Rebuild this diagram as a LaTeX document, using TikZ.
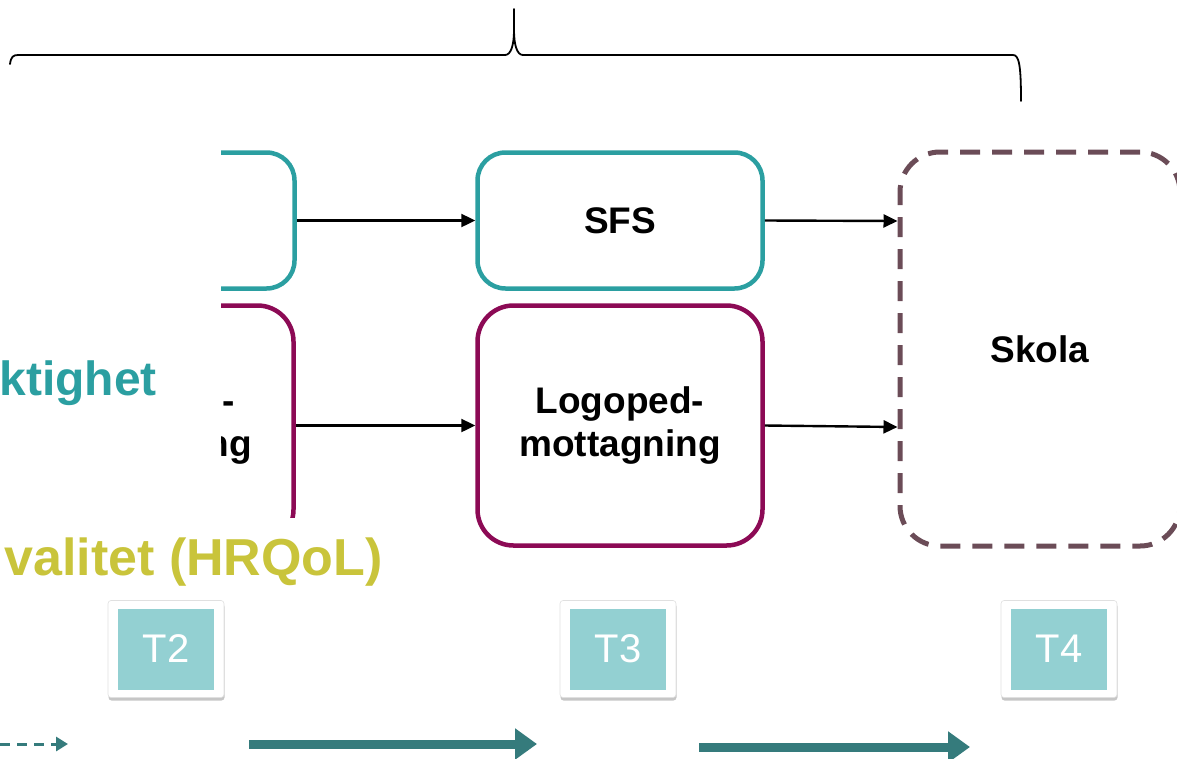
\documentclass[tikz,border=0pt]{standalone}
\usepackage{fontspec}
\setmainfont{Liberation Sans}
\usepackage{xcolor}
\usetikzlibrary{arrows.meta,shadows}

\definecolor{sfsteal}{HTML}{2B9FA1}
\definecolor{logomag}{HTML}{8C0A55}
\definecolor{skolamauve}{HTML}{6B4C57}
\definecolor{hrqolgreen}{HTML}{C9C43B}
\definecolor{tfill}{HTML}{93D0D2}
\definecolor{timeteal}{HTML}{357B7C}

\tikzset{
  stage/.style={draw, line width=4.5pt, minimum width=285pt, inner sep=0pt, align=center,
    font=\bfseries\fontsize{37}{43}\selectfont},
  sfsbox/.style={stage, draw=sfsteal, rounded corners=28pt, minimum height=136pt},
  logobox/.style={stage, draw=logomag, rounded corners=36pt, minimum height=240pt},
  conn/.style={-{Triangle[length=14pt,width=13pt]}, line width=2.4pt},
  tcard/.style={fill=white, draw=black!12, line width=.6pt, rounded corners=3pt,
    minimum width=116pt, minimum height=97pt,
    drop shadow={shadow xshift=0.5pt, shadow yshift=-3pt, opacity=.45}},
  tmark/.style={fill=tfill, text=white, minimum width=96pt, minimum height=81pt, inner sep=0pt,
    font=\fontsize{40}{40}\selectfont},
  timearrow/.style={draw=timeteal, line width=9pt, -{Triangle[length=22pt,width=30pt]}},
}

\begin{document}
\begin{tikzpicture}[x=1pt, y=-1pt]
\useasboundingbox (0,0) rectangle (1177,758);
\clip (0,0) rectangle (1177,758);

% brace over the whole follow-up
\draw[line width=1.8pt, line cap=round]
  (10,64) .. controls (11,57) and (13,55) .. (18,55) -- (505,55)
  .. controls (511,55) and (514,45) .. (514,30) -- (514,9)
  (514,30) .. controls (514,45) and (517,55) .. (523,55) -- (1013,55)
  .. controls (1019,55) and (1021,65) .. (1021,101);

% earlier stage, cut off at the left
\begin{scope}
\clip (221,130) rectangle (330,517);
\node[sfsbox] (sfsA) at (152,220.5) {};
\node[logobox] (logoA) at (151,425.5) {Logoped-\\mottagning};
\end{scope}

\node[sfsbox] (sfsB) at (620,220.5) {SFS};
\node[logobox] (logoB) at (620,425.5) {Logoped-\\mottagning};
\node[stage, draw=skolamauve, rounded corners=40pt, minimum width=280pt, minimum height=394pt,
  line width=5pt, dash pattern=on 20pt off 12pt] (skola) at (1040,349) {Skola};

\draw[conn] (sfsA.east) -- (sfsB.west);
\draw[conn] (logoA.east) -- (logoB.west);
\draw[conn] (sfsB.east) -- ([yshift=128pt]skola.west);
\draw[conn] (logoB.east) -- ([yshift=-78pt]skola.west);

% outcome labels
\node[anchor=base east, text=sfsteal, inner sep=0pt, font=\bfseries\fontsize{48}{48}\selectfont]
  (delakt) at (157,395) {ktighet};
\node[anchor=base east, text=hrqolgreen, inner sep=0pt, font=\bfseries\fontsize{52}{52}\selectfont]
  (hrqol) at (383,575) {valitet (HRQoL)};

% measurement points
\foreach \t/\x in {2/166,3/618,4/1059}{
  \node[tcard] (card\t) at (\x,649) {};
  \node[tmark] (t\t) at (card\t) {T\t};
}

% time line
\coordinate (d0) at (0,744);
\coordinate (d1) at (68,744);
\coordinate (a0) at (249,744);
\coordinate (a1) at (537,744);
\coordinate (b0) at (699,747);
\coordinate (b1) at (970,747);
\draw[timeteal, line width=3pt, dash pattern=on 10pt off 7pt, -{Triangle[length=12pt,width=14pt]}] (d0) -- (d1);
\draw[timearrow] (a0) -- (a1);
\draw[timearrow] (b0) -- (b1);
\end{tikzpicture}
\end{document}
